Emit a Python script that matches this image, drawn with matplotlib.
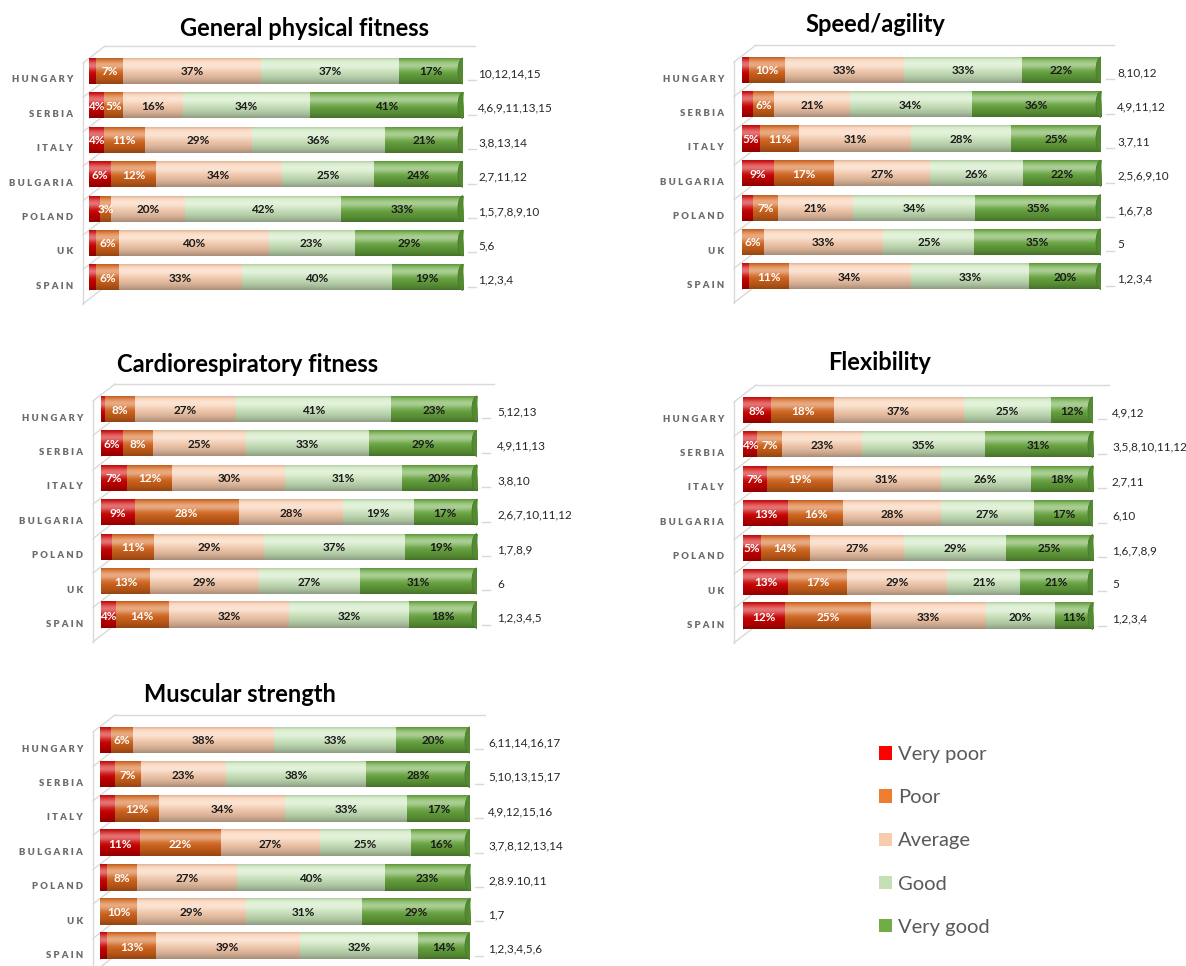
import numpy as np
import matplotlib.pyplot as plt
from matplotlib.patches import Ellipse, Patch
from matplotlib.colors import to_rgb

plt.rcParams['font.family'] = ['Lato', 'DejaVu Sans']

W, H = 1186, 966
fig = plt.figure(figsize=(W / 100, H / 100), dpi=100)

# ------------------------------------------------------------
# data: one row per country, columns = Very poor .. Very good (%)
# ------------------------------------------------------------
countries = ["HUNGARY", "SERBIA", "ITALY", "BULGARIA", "POLAND", "UK", "SPAIN"]
levels = ["Very poor", "Poor", "Average", "Good", "Very good"]

general = [[2, 7, 37, 37, 17], [4, 5, 16, 34, 41], [4, 11, 29, 36, 21], [6, 12, 34, 25, 24],
           [3, 3, 20, 42, 33], [2, 6, 40, 23, 29], [2, 6, 33, 40, 19]]
general_refs = ["10,12,14,15", "4,6,9,11,13,15", "3,8,13,14", "2,7,11,12", "1,5,7,8,9,10", "5,6", "1,2,3,4"]
general_nolabel = ["HUNGARY", "POLAND", "UK", "SPAIN"]

speed = [[2, 10, 33, 33, 22], [3, 6, 21, 34, 36], [5, 11, 31, 28, 25], [9, 17, 27, 26, 22],
         [3, 7, 21, 34, 35], [0, 6, 33, 25, 35], [2, 11, 34, 33, 20]]
speed_refs = ["8,10,12", "4,9,11,12", "3,7,11", "2,5,6,9,10", "1,6,7,8", "5", "1,2,3,4"]
speed_nolabel = ["HUNGARY", "SERBIA", "POLAND", "SPAIN"]

cardio = [[1, 8, 27, 41, 23], [6, 8, 25, 33, 29], [7, 12, 30, 31, 20], [9, 28, 28, 19, 17],
          [3, 11, 29, 37, 19], [0, 13, 29, 27, 31], [4, 14, 32, 32, 18]]
cardio_refs = ["5,12,13", "4,9,11,13", "3,8,10", "2,6,7,10,11,12", "1,7,8,9", "6", "1,2,3,4,5"]
cardio_nolabel = ["HUNGARY", "POLAND"]

flexibility = [[8, 18, 37, 25, 12], [4, 7, 23, 35, 31], [7, 19, 31, 26, 18], [13, 16, 28, 27, 17],
               [5, 14, 27, 29, 25], [13, 17, 29, 21, 21], [12, 25, 33, 20, 11]]
flexibility_refs = ["4,9,12", "3,5,8,10,11,12", "2,7,11", "6,10", "1,6,7,8,9", "5", "1,2,3,4"]
flexibility_nolabel = []

strength = [[3, 6, 38, 33, 20], [4, 7, 23, 38, 28], [4, 12, 34, 33, 17], [11, 22, 27, 25, 16],
            [2, 8, 27, 40, 23], [0, 10, 29, 31, 29], [2, 13, 39, 32, 14]]
strength_refs = ["6,11,14,16,17", "5,10,13,15,17", "4,9,12,15,16", "3,7,8,12,13,14", "2,8.9.10,11", "1,7", "1,2,3,4,5,6"]
strength_nolabel = ["HUNGARY", "SERBIA", "ITALY", "POLAND", "SPAIN"]

# bar fill colours and legend colours
bar_colors = ["#d00000", "#d8661c", "#fbcfb0", "#cfeac0", "#68a83e"]
legend_colors = ["#ff0000", "#ed7d31", "#f8cbad", "#c5e0b4", "#70ad47"]
text_colors = ["white", "white", "#1a1a1a", "#1a1a1a", "#1a1a1a"]

PITCH = 34.4      # px between rows
GREY = "#d9d9d9"


def cylinder_shade(color, n=48):
    """vertical gradient giving a segment the rounded cylinder look"""
    base = np.array(to_rgb(color))
    t = np.linspace(0, 1, n)[:, None]
    light = 0.45 * np.exp(-((t - 0.28) / 0.2) ** 2)
    dark = 0.32 * t ** 3 + 0.12 * np.exp(-(t / 0.06) ** 2)
    rgb = base * (1 - light) + light
    rgb = rgb * (1 - dark)
    return np.clip(rgb, 0, 1)[:, None, :]


def draw_panel(data, refs, nolabel, title, tx, ty, left, right, y0, axis_x, num_x):
    top_px = y0 - PITCH / 2
    ax = fig.add_axes([left / W, 1 - (top_px + 7 * PITCH) / H, (right - left) / W, 7 * PITCH / H])
    sx = 100 / (right - left)   # data units per pixel, x
    sy = 1 / PITCH              # data units per pixel, y
    bar_h = 26 * sy

    # 3D wall / floor lines
    back = [-25 * sy + k for k in range(8)]
    front = [b + 17 * sy for b in back]
    ax_x = (axis_x - left) * sx
    ax.plot([ax_x, ax_x], [front[0], front[7]], color=GREY, lw=1, clip_on=False, zorder=0)
    for k in range(8):
        ax.plot([ax_x, ax_x + 22 * sx], [front[k], back[k]], color=GREY, lw=1, clip_on=False, zorder=0)
    ax.plot([ax_x + 22 * sx, (num_x - 3 - left) * sx], [back[0], back[0]], color=GREY, lw=1,
            clip_on=False, zorder=0)
    for k in range(1, 8):
        ax.plot([100 + 5 * sx, 100 + 13 * sx], [back[k], back[k]], color=GREY, lw=1,
                clip_on=False, zorder=0)

    for i, (name, row) in enumerate(zip(countries, data)):
        vals = np.array(row, dtype=float)
        widths = vals / vals.sum() * 100
        ends = np.cumsum(widths)
        starts = ends - widths

        first = int(np.argmax(vals > 0))
        lc = np.array(to_rgb(bar_colors[first])) * 0.85
        ax.add_patch(Ellipse((0, i), 8 * sx, bar_h, fc=lc, ec="none", zorder=1))

        for j in range(5):
            if vals[j] <= 0:
                continue
            ax.imshow(cylinder_shade(bar_colors[j]), extent=(starts[j], ends[j], i + bar_h / 2, i - bar_h / 2),
                      aspect="auto", interpolation="bilinear", zorder=2)
            if j == 0 and name in nolabel:
                continue
            ax.text((starts[j] + ends[j]) / 2, i + 1 * sy, f"{row[j]}%", ha="center", va="center",
                    fontsize=8.5, fontweight="bold", color=text_colors[j], zorder=4)

        ax.add_patch(Ellipse((100, i), 10 * sx, bar_h, fc="#548a33", ec="#4a7a2c", lw=0.6, zorder=3))

        ax.text(ax_x - 10 * sx, i + 9 * sy, " ".join(name), ha="right", va="center",
                fontsize=6.8, fontweight="heavy", color="#6b6b6b", clip_on=False)
        ax.text((num_x - left) * sx, i + 3 * sy, refs[i], ha="left", va="center",
                fontsize=8.5, color="#262626", clip_on=False)

    ax.set_xlim(0, 100)
    ax.set_ylim(6.5, -0.5)
    ax.axis("off")

    fig.text(tx / W, 1 - ty / H, title, ha="center", va="center", fontsize=17, fontweight="bold")


draw_panel(general, general_refs, general_nolabel, "General physical fitness",
           305, 28, 89, 463, 71, 83, 478)
draw_panel(speed, speed_refs, speed_nolabel, "Speed/agility",
           875, 25, 742, 1101, 70, 734, 1117)
draw_panel(cardio, cardio_refs, cardio_nolabel, "Cardiorespiratory fitness",
           248, 365, 101, 477, 409, 93, 497)
draw_panel(flexibility, flexibility_refs, flexibility_nolabel, "Flexibility",
           880, 362, 743, 1093, 410, 734, 1112)
draw_panel(strength, strength_refs, strength_nolabel, "Muscular strength",
           240, 695, 100, 470, 740, 93, 488)

handles = [Patch(facecolor=c, edgecolor="none", label=l) for c, l in zip(legend_colors, levels)]
fig.legend(handles=handles, loc="upper left", bbox_to_anchor=(879 / W, 1 - 746 / H), frameon=False,
           fontsize=14.5, labelcolor="#595959", handlelength=0.65, handleheight=0.65,
           handletextpad=0.3, labelspacing=1.3, borderpad=0, borderaxespad=0)

fig.savefig("out.png", dpi=100, facecolor="white")
